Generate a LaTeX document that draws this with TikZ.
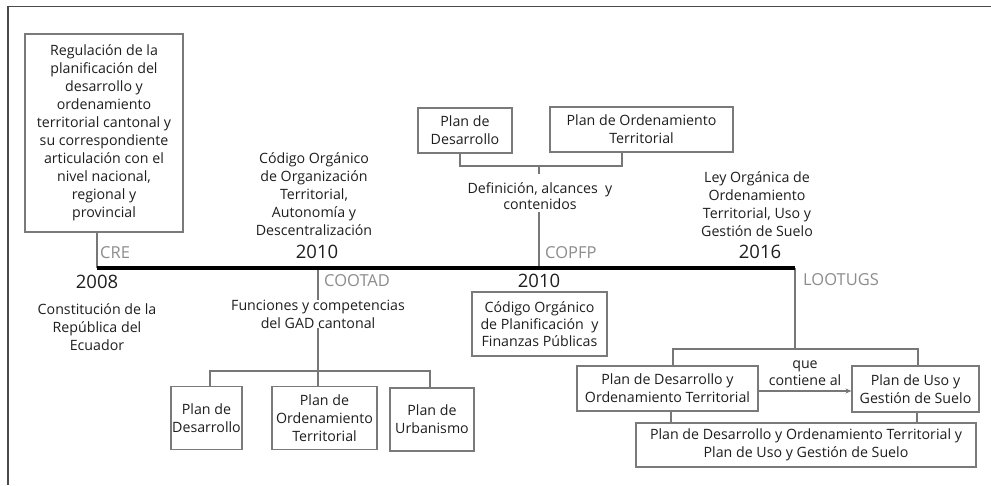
\documentclass[tikz,border=0pt]{standalone}
\usepackage{fontspec}
\setmainfont{Open Sans}
\usetikzlibrary{arrows.meta}
\definecolor{framecol}{HTML}{4A4A4A}
\definecolor{boxgray}{HTML}{7A7A7A}
\definecolor{lingray}{HTML}{777777}
\definecolor{labgray}{HTML}{8C8C8C}
\definecolor{textcol}{HTML}{1E1E1E}
\tikzset{
  txt/.style={align=center, text=textcol, inner sep=0pt, font=\fontsize{14.2}{18}\selectfont},
  boxed/.style={txt, draw=boxgray, line width=1.1pt},
  lbl/.style={anchor=west, text=labgray, inner sep=0pt, font=\fontsize{16.5}{18}\selectfont},
  yr/.style={text=textcol, inner sep=0pt, font=\fontsize{18.5}{20}\selectfont},
  conn/.style={draw=lingray, line width=1.8pt},
  thin conn/.style={draw=lingray, line width=1.2pt}
}
\begin{document}
\begin{tikzpicture}[x=1pt,y=-1pt]
\useasboundingbox (0,0) rectangle (991,485);
% frame
\draw[framecol, line width=1.6pt] (8,485) -- (8,6.5) -- (991,6.5);
% timeline coordinates
\coordinate (t0) at (97,268);
\coordinate (t1) at (318,268);
\coordinate (t2) at (539,268);
\coordinate (t3) at (795,268);
% ---------- CRE ----------
\node[boxed, minimum width=158pt, minimum height=198pt] (cre) at (104,133)
  {Regulación de la\\planificación del\\desarrollo y\\ordenamiento\\territorial cantonal y\\su correspondiente\\articulación con el\\nivel nacional,\\regional y\\provincial};
\node[lbl] (crel) at (100,253) {CRE};
\node[yr] (y2008) at (97,282) {2008};
\node[txt] (crec) at (97,327) {Constitución de la\\República del\\Ecuador};
% ---------- COOTAD ----------
\node[txt] (cootadt) at (314,194) {Código Orgánico\\de Organización\\Territorial,\\Autonomía y\\Descentralización};
\node[yr] (y2010a) at (317,252) {2010};
\node[lbl] (cootadl) at (324,281) {COOTAD};
\node[txt] (func) at (318,314) {Funciones y competencias\\del GAD cantonal};
\coordinate (hA) at (318,371);
\coordinate (hL) at (210,371);
\coordinate (hR) at (430,371);
\node[boxed, minimum width=71pt, minimum height=63pt] (pd1) at (206.5,418) {Plan de\\Desarrollo};
\node[boxed, minimum width=105pt, minimum height=63pt] (pot1) at (324.5,418) {Plan de\\Ordenamiento\\Territorial};
\node[boxed, minimum width=84pt, minimum height=63pt] (pu1) at (432,419.5) {Plan de\\Urbanismo};
% ---------- COPFP ----------
\node[boxed, minimum width=94pt, minimum height=45pt] (pd2) at (465,130.5) {Plan de\\Desarrollo};
\node[boxed, minimum width=183pt, minimum height=45pt] (pot2) at (641.5,129.5) {Plan de Ordenamiento\\Territorial};
\coordinate (cL) at (460,166);
\coordinate (cR) at (622,166);
\coordinate (cM) at (539,166);
\node[txt, font=\fontsize{14.2}{16}\selectfont] (defi) at (540,196) {Definición, alcances\ \ y\\contenidos};
\node[lbl] (copfpl) at (545,253) {COPFP};
\node[yr] (y2010b) at (539,281) {2010};
\node[boxed, minimum width=135pt, minimum height=64pt, font=\fontsize{14.2}{17}\selectfont] (cop) at (539.5,324) {Código Orgánico\\de Planificación\ \ y\\Finanzas Públicas};
% ---------- LOOTUGS ----------
\node[txt] (leyt) at (757,204) {Ley Orgánica de\\Ordenamiento\\Territorial, Uso y\\Gestión de\ Suelo};
\node[yr] (y2016) at (760,252) {2016};
\node[lbl] (lootl) at (803,280) {LOOTUGS};
\coordinate (lA) at (795,349);
\coordinate (lL) at (673,349);
\coordinate (lR) at (918,349);
\node[boxed, minimum width=181pt, minimum height=45pt] (pdot) at (667.5,388.5) {Plan de Desarrollo y\\Ordenamiento Territorial};
\node[boxed, minimum width=127pt, minimum height=46pt] (pugs) at (915.5,389) {Plan de Uso y\\Gestión de Suelo};
\node[txt, font=\fontsize{14.2}{17}\selectfont] (que) at (805,373) {que\\contiene al};
\node[boxed, minimum width=340pt, minimum height=44pt] (both) at (806,445) {Plan de Desarrollo y Ordenamiento Territorial y\\Plan de Uso y Gestión de Suelo};
% ---------- connectors ----------
\draw[conn] (cre.south -| t0) -- (t0);
\draw[conn] (t1) -- (func.north -| t1);
\draw[conn] (func.south -| t1) -- (hA);
\draw[conn] (pd1.north -| hL) -- (hL) -- (hR) -- (pu1.north -| hR);
\draw[conn] (hA) -- (pot1.north -| hA);
\draw[conn] (pd2.south -| cL) -- (cL) -- (cR) -- (pot2.south -| cR);
\draw[conn] (cM) -- ++(0,8);
\draw[conn] (defi.south -| t2) ++(0,2) -- (t2);
\draw[conn] (t3) -- (lA);
\draw[conn] (pdot.north -| lL) -- (lL) -- (lR) -- (pugs.north -| lR);
\draw[thin conn, -{Stealth[length=6pt,width=5pt]}] (pdot.east |- 0,391) -- (pugs.west |- 0,391);
\draw[thin conn] (pdot.south -| 671,0) -- (both.north -| 671,0);
\draw[thin conn] (pugs.south -| 917,0) -- (both.north -| 917,0);
% timeline
\draw[black, line width=4.5pt] (t0) -- (t3);
\end{tikzpicture}
\end{document}
